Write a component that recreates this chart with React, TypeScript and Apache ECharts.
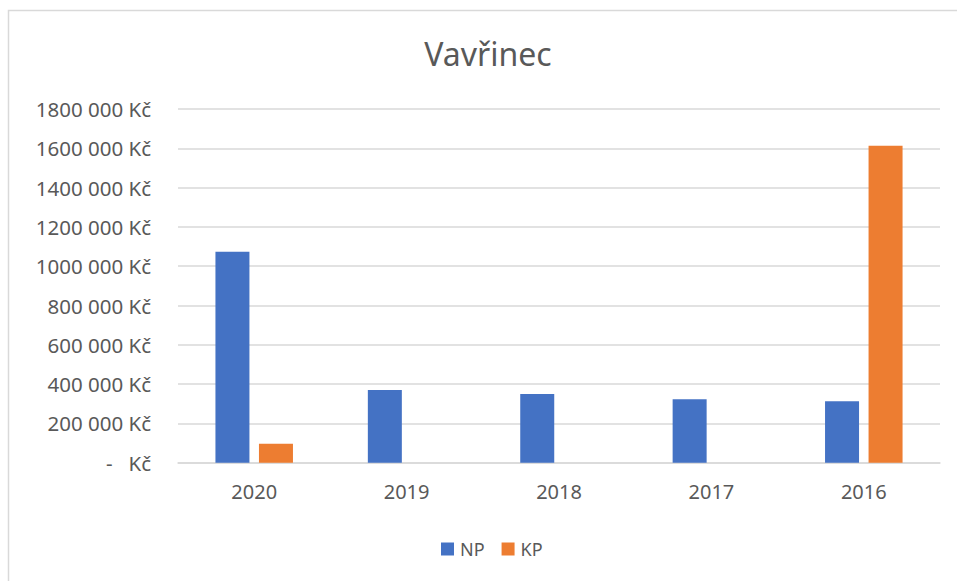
import React, { useEffect, useRef } from "react";
import * as echarts from "echarts";

const years = ["2020", "2019", "2018", "2017", "2016"];
const npValues = [1074000, 370000, 350000, 323000, 313000];
const kpValues: (number | null)[] = [97000, null, null, null, 1613000];
const yTicks = [0, 200000, 400000, 600000, 800000, 1000000, 1200000, 1400000, 1600000, 1800000];

const FONT = "'Noto Sans', 'Open Sans', sans-serif";
const TEXT = "#595959";
const GRID = "#d9d9d9";

function fmt(v: number): string {
  if (v === 0) return "-   Kč";
  const th = Math.floor(v / 1000);
  const rest = String(v % 1000).padStart(3, "0");
  return `${th} ${rest} Kč`;
}

export default function App() {
  const ref = useRef<HTMLDivElement>(null);
  useEffect(() => {
    if (!ref.current) return;
    const chart = echarts.init(ref.current, undefined, { renderer: "svg" });
    chart.setOption({
      animation: false,
      backgroundColor: "#ffffff",
      title: {
        text: "Vavřinec",
        left: 483,
        textAlign: "center",
        top: 32,
        textStyle: { fontFamily: FONT, fontSize: 32, fontWeight: "normal", color: TEXT },
      },
      graphic: [
        {
          type: "rect",
          shape: { x: 8.5, y: 10.5, width: 1000, height: 1000 },
          style: { fill: "none", stroke: GRID, lineWidth: 1.5 },
          silent: true,
        },
      ],
      legend: {
        data: ["NP", "KP"],
        left: 436,
        top: 535,
        itemWidth: 13,
        itemHeight: 13,
        itemGap: 17,
        icon: "rect",
        textStyle: { fontFamily: FONT, fontSize: 18, color: TEXT, padding: [0, 0, 0, 1] },
      },
      grid: { left: 178, right: 17, top: 109, bottom: 118.3, containLabel: false },
      xAxis: {
        type: "category",
        data: years,
        axisLine: { show: true, lineStyle: { color: GRID, width: 1.5 } },
        axisTick: { show: false },
        axisLabel: { fontFamily: FONT, fontSize: 20, color: TEXT, margin: 19 },
      },
      yAxis: {
        type: "value",
        min: 0,
        max: yTicks[yTicks.length - 1],
        interval: yTicks[1] - yTicks[0],
        axisLine: { show: false },
        axisTick: { show: false },
        splitLine: { lineStyle: { color: GRID, width: 1.5 } },
        axisLabel: {
          fontFamily: FONT,
          fontSize: 20.5,
          color: TEXT,
          margin: 27,
          formatter: (v: number) => fmt(v),
        },
      },
      series: [
        {
          name: "NP",
          type: "bar",
          data: npValues,
          barWidth: 34,
          barGap: "28%",
          itemStyle: { color: "#4472c4" },
        },
        {
          name: "KP",
          type: "bar",
          data: kpValues,
          barWidth: 34,
          itemStyle: { color: "#ed7d31" },
        },
      ],
    });
    return () => chart.dispose();
  }, []);
  return (
    <div
      ref={ref}
      style={{ position: "fixed", left: 0, top: 0, width: 957, height: 581 }}
    />
  );
}
